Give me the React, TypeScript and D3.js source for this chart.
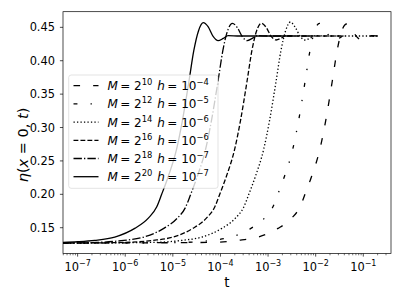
import React from 'react';
import * as d3 from 'd3';

// log10(t) and eta(x=0,t), one pair per run
const logT10 = [-7.31, -4.2, -3.63, -3.21, -2.79, -2.51, -2.33, -2.225, -2.09, -1.91, -1.79, -1.65, -1.55, -1.45, -1.35, -1.25, -1.14, -1.04, -0.93, -0.83, -0.7];
const eta10 = [0.127, 0.128, 0.131, 0.136, 0.149, 0.164, 0.181, 0.2, 0.226, 0.268, 0.31, 0.37, 0.415, 0.445, 0.455, 0.449, 0.436, 0.431, 0.434, 0.4375, 0.437];

const logT12 = [-7.31, -4.8, -4.2, -3.78, -3.36, -3.08, -2.9, -2.795, -2.66, -2.48, -2.36, -2.22, -2.12, -2.02, -1.92, -1.82, -1.71, -1.61, -1.5, -1.4, -1.2, -0.7];
const eta12 = [0.127, 0.128, 0.131, 0.136, 0.149, 0.164, 0.181, 0.2, 0.226, 0.268, 0.31, 0.37, 0.415, 0.445, 0.456, 0.45, 0.436, 0.431, 0.434, 0.4375, 0.437, 0.437];

const logT14 = [-7.31, -5.4, -4.81, -4.39, -3.97, -3.69, -3.51, -3.405, -3.27, -3.09, -2.97, -2.83, -2.73, -2.63, -2.53, -2.43, -2.32, -2.22, -2.11, -2.01, -1.8, -0.7];
const eta14 = [0.127, 0.128, 0.131, 0.136, 0.149, 0.164, 0.181, 0.2, 0.226, 0.268, 0.31, 0.37, 0.415, 0.445, 0.458, 0.45, 0.436, 0.431, 0.434, 0.4375, 0.437, 0.437];

const logT16 = [-7.31, -6.0, -5.42, -5.0, -4.58, -4.3, -4.12, -4.015, -3.88, -3.7, -3.58, -3.44, -3.34, -3.24, -3.14, -3.04, -2.93, -2.83, -2.72, -2.62, -2.4, -1.4];
const eta16 = [0.127, 0.128, 0.131, 0.136, 0.149, 0.164, 0.181, 0.2, 0.226, 0.268, 0.31, 0.37, 0.415, 0.445, 0.456, 0.45, 0.436, 0.431, 0.434, 0.4375, 0.437, 0.437];

const logT18 = [-7.31, -6.6, -6.03, -5.61, -5.19, -4.91, -4.73, -4.625, -4.49, -4.31, -4.19, -4.05, -3.95, -3.85, -3.75, -3.65, -3.54, -3.44, -3.33, -3.23, -3.0, -2.0];
const eta18 = [0.127, 0.128, 0.131, 0.136, 0.149, 0.164, 0.181, 0.2, 0.226, 0.268, 0.31, 0.37, 0.415, 0.445, 0.456, 0.45, 0.436, 0.43, 0.4335, 0.4375, 0.437, 0.437];

const logT20 = [-7.31, -7.0, -6.64, -6.22, -5.8, -5.52, -5.34, -5.235, -5.1, -4.92, -4.8, -4.66, -4.56, -4.46, -4.36, -4.26, -4.15, -4.05, -3.94, -3.84, -3.6, -2.5];
const eta20 = [0.128, 0.129, 0.131, 0.136, 0.149, 0.164, 0.181, 0.2, 0.226, 0.268, 0.31, 0.37, 0.415, 0.445, 0.457, 0.451, 0.436, 0.43, 0.4335, 0.4375, 0.437, 0.437];

const mPowers = ['10', '12', '14', '16', '18', '20'];
const hPowers = ['−4', '−5', '−6', '−6', '−7', '−7'];
const yTicks = [0.15, 0.2, 0.25, 0.3, 0.35, 0.4, 0.45];

const runs = [
    {logT: logT10, eta: eta10},
    {logT: logT12, eta: eta12},
    {logT: logT14, eta: eta14},
    {logT: logT16, eta: eta16},
    {logT: logT18, eta: eta18},
    {logT: logT20, eta: eta20},
];

// matplotlib styles at 1.5pt, 63 dpi
const dashes = ['6.56 13.1', '3.94 13.1 1.31 13.1', '1.31 2.17', '4.86 2.1', '8.4 2.1 1.31 2.1', 'none'];

const W = 403;
const H = 302;
const left = 63;
const right = 391;
const top = 11.7;
const bottom = 253.5;
const font = 'DejaVu Sans, sans-serif';

export default function App() {
    const x = d3.scaleLog().domain([10 ** -7.307, 10 ** -0.418]).range([left, right]);
    const y = d3.scaleLinear().domain([0.1114, 0.4734]).range([bottom, top]);

    const line = d3.line<[number, number]>()
        .x(d => x(10 ** d[0]))
        .y(d => y(d[1]))
        .curve(d3.curveMonotoneX);

    const xTicks = x.ticks().filter(t => t >= x.domain()[0] && t <= x.domain()[1]);
    const isMajor = (t: number) => Math.abs(Math.log10(t) - Math.round(Math.log10(t))) < 1e-6;
    const fmt = d3.format('.2f');

    const legX = 68.7, legY = 75, legW = 149.3, legH = 113.3, rowY = 85.7, rowStep = 18.2;

    return (
        <div style={{position: 'fixed', left: 0, top: 0}}>
            <svg width={W} height={H} viewBox={`0 0 ${W} ${H}`} fontFamily={font}>
                <rect width={W} height={H} fill="#fff"/>
                <defs>
                    <clipPath id="plot">
                        <rect x={left} y={top} width={right - left} height={bottom - top}/>
                    </clipPath>
                </defs>

                <g clipPath="url(#plot)">
                    {runs.map((r, i) => (
                        <path key={i}
                              d={line(r.logT.map((L, j) => [L, r.eta[j]] as [number, number])) || ''}
                              fill="none" stroke="#000" strokeWidth={1.31}
                              strokeDasharray={dashes[i]}/>
                    ))}
                </g>

                {/* x axis */}
                {xTicks.map((t, i) => {
                    const major = isMajor(t);
                    return (
                        <g key={i}>
                            <line x1={x(t)} x2={x(t)} y1={bottom} y2={bottom + (major ? 3.1 : 1.8)}
                                  stroke="#000" strokeWidth={major ? 0.7 : 0.55}/>
                            {major && (
                                <text x={x(t)} y={270.7} textAnchor="middle" fontSize={11.4}>
                                    10<tspan dy={-4.6} fontSize={8}>{'−' + Math.round(-Math.log10(t))}</tspan>
                                </text>
                            )}
                        </g>
                    );
                })}

                {/* y axis */}
                {yTicks.map(v => (
                    <g key={v}>
                        <line x1={left - 3.1} x2={left} y1={y(v)} y2={y(v)} stroke="#000" strokeWidth={0.7}/>
                        <text x={55} y={y(v) + 4.1} textAnchor="end" fontSize={11.4}>{fmt(v)}</text>
                    </g>
                ))}

                <rect x={left} y={top} width={right - left} height={bottom - top}
                      fill="none" stroke="#000" strokeWidth={0.7}/>

                <text x={(left + right) / 2} y={286.5} textAnchor="middle" fontSize={13.5}>t</text>
                <text transform="translate(28,145) rotate(-90)" textAnchor="middle" fontSize={14.5}
                      style={{whiteSpace: 'pre'}}>
                    <tspan fontStyle="italic">η</tspan>
                    <tspan>(</tspan>
                    <tspan fontStyle="italic">x</tspan>
                    <tspan>{' = 0, '}</tspan>
                    <tspan fontStyle="italic">t</tspan>
                    <tspan>)</tspan>
                </text>

                {/* legend */}
                <rect x={legX} y={legY} width={legW} height={legH} rx={2.5}
                      fill="#fff" fillOpacity={0.8} stroke="#ccc" strokeOpacity={0.8} strokeWidth={0.7}/>
                {mPowers.map((m, i) => {
                    const cy = rowY + i * rowStep;
                    return (
                        <g key={m}>
                            <line x1={73.5} x2={98.5} y1={cy} y2={cy} stroke="#000" strokeWidth={1.31}
                                  strokeDasharray={dashes[i]}/>
                            <text x={107.5} y={cy + 4.4} fontSize={12} style={{whiteSpace: 'pre'}}>
                                <tspan fontStyle="italic">M</tspan>
                                <tspan dx={-1.5}>{' = 2'}</tspan>
                                <tspan dy={-5} fontSize={8.4}>{m}</tspan>
                                <tspan dy={5} dx={5} fontStyle="italic">h</tspan>
                                <tspan dx={-1.5}>{' = 10'}</tspan>
                                <tspan dy={-5} fontSize={8.4}>{hPowers[i]}</tspan>
                            </text>
                        </g>
                    );
                })}
            </svg>
        </div>
    );
}
